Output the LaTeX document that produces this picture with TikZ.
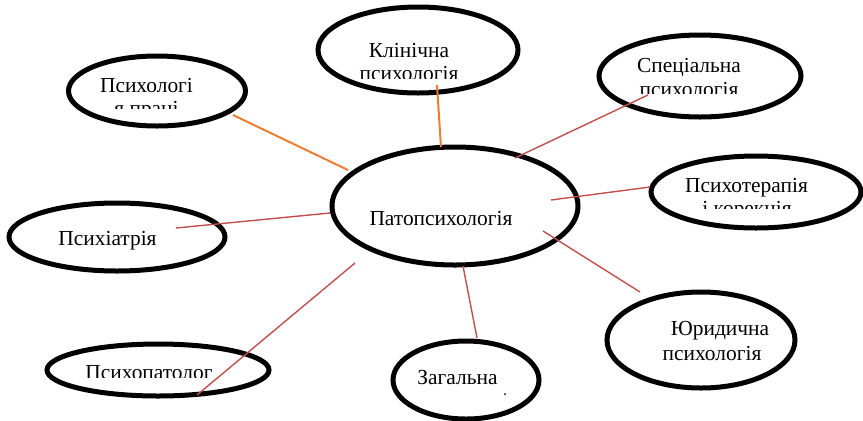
\documentclass[tikz,border=0pt]{standalone}
\usepackage{fontspec}
\setmainfont{Liberation Serif}
\usetikzlibrary{shapes.geometric}
\tikzset{
  oval/.style={ellipse, draw=black, line width=5bp, fill=white, inner sep=0pt},
  lbl/.style={anchor=base, inner sep=0pt, font=\fontsize{21.5}{24}\selectfont},
  redlink/.style={draw={rgb,255:red,192;green,80;blue,77}, line width=1.4bp},
  orangelink/.style={draw={rgb,255:red,237;green,125;blue,49}, line width=2bp}
}
\begin{document}
\begin{tikzpicture}[x=1bp,y=-1bp]
\useasboundingbox (0,0) rectangle (863,420);
% ellipses
\node[oval, minimum width=246bp, minimum height=118bp] (pat) at (455,206) {};
\node[oval, minimum width=200bp, minimum height=86bp] (klin) at (418,50) {};
\node[oval, minimum width=177bp, minimum height=70bp] (prac) at (157,91) {};
\node[oval, minimum width=202bp, minimum height=82bp] (spec) at (700,76) {};
\node[oval, minimum width=210bp, minimum height=72bp] (ter) at (756,192) {};
\node[oval, minimum width=216bp, minimum height=68bp] (iatr) at (117,237) {};
\node[oval, minimum width=222bp, minimum height=52bp] (ptl) at (158,370) {};
\node[oval, minimum width=146bp, minimum height=78bp] (zag) at (466,380) {};
\node[oval, minimum width=188bp, minimum height=96bp] (yur) at (701,340) {};
% connector ends
\coordinate (c1a) at (437,85);  \coordinate (c1b) at (441,147);
\coordinate (c2a) at (233,115); \coordinate (c2b) at (348,170);
\coordinate (c3a) at (515,158); \coordinate (c3b) at (648,95);
\coordinate (c4a) at (551,200); \coordinate (c4b) at (650,187);
\coordinate (c5a) at (543,231); \coordinate (c5b) at (640,292);
\coordinate (c6a) at (463,266); \coordinate (c6b) at (477,338);
\coordinate (c7a) at (355,263); \coordinate (c7b) at (197,395);
\coordinate (c8a) at (330,213); \coordinate (c8b) at (176,228);
\draw[orangelink] (c1a) -- (c1b);
\draw[orangelink] (c2a) -- (c2b);
\draw[redlink] (c3a) -- (c3b);
\draw[redlink] (c4a) -- (c4b);
\draw[redlink] (c5a) -- (c5b);
\draw[redlink] (c6a) -- (c6b);
\draw[redlink] (c7a) -- (c7b);
\draw[redlink] (c8a) -- (c8b);
% texts
\node[lbl] (tpat) at (441,225.5) {Патопсихологія};
\node[lbl] (tklin1) at (409,57) {Клінічна};
\begin{scope}
\clip (330,60) rectangle (500,78);
\node[lbl] (tklin2) at (409,80.5) {психологія};
\end{scope}
\node[lbl] (tprac1) at (146.5,92) {Психологі};
\begin{scope}
\clip (90,95) rectangle (210,108);
\node[lbl] (tprac2) at (146.5,115.5) {я праці};
\end{scope}
\node[lbl] (tspec1) at (689,72.5) {Спеціальна};
\begin{scope}
\clip (620,76) rectangle (760,93);
\node[lbl] (tspec2) at (689,96) {психологія};
\end{scope}
\node[lbl] (tter1) at (746.5,192) {Психотерапія};
\begin{scope}
\clip (680,196) rectangle (820,208.5);
\node[lbl] (tter2) at (747,215.5) {і корекція};
\end{scope}
\node[lbl] (tiatr) at (107.5,245) {Психіатрія};
\begin{scope}
\clip (70,355) rectangle (240,377);
\node[lbl] (tptl) at (149,379) {Психопатолог};
\end{scope}
\node[lbl] (tzag) at (457.5,384) {Загальна};
\fill (505,394) circle (1bp);
\node[lbl] (tyur1) at (720,335) {Юридична};
\node[lbl] (tyur2) at (712,360) {психологія};
\end{tikzpicture}
\end{document}
